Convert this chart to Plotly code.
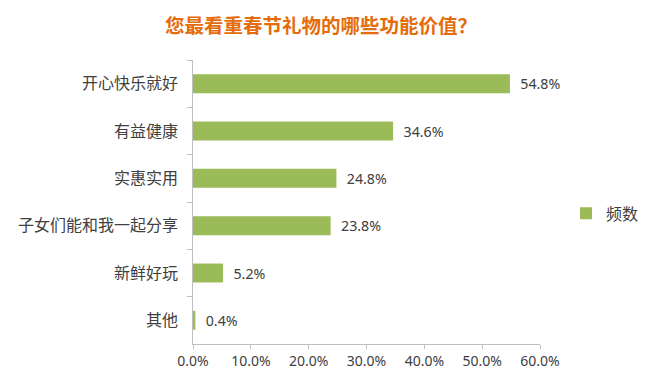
import plotly.graph_objects as go

categories = ["开心快乐就好", "有益健康", "实惠实用", "子女们能和我一起分享", "新鲜好玩", "其他"]
values = [54.8, 34.6, 24.8, 23.8, 5.2, 0.4]
tick_vals = [0, 10, 20, 30, 40, 50, 60]
tick_text = ["0.0%", "10.0%", "20.0%", "30.0%", "40.0%", "50.0%", "60.0%"]
series_name = "频数"
title = "您最看重春节礼物的哪些功能价值？"

font_family = "Noto Sans CJK SC, Noto Sans, sans-serif"
num_family = "Noto Sans, sans-serif"
text_color = "#404040"

# page body has an 8px margin, so the figure is drawn 8px smaller and shifted
fig = go.Figure()
fig.add_trace(go.Bar(
    y=categories, x=values, orientation="h", name=series_name,
    marker=dict(color="#9BBB59", line=dict(width=0)),
    text=["\u00a0\u00a0" + f"{v:.1f}%" for v in values], textposition="outside",
    textfont=dict(size=15, color=text_color, family=num_family),
    cliponaxis=False, width=0.4,
))
fig.update_layout(
    width=644, height=378,
    margin=dict(l=185, r=112, t=52, b=42, autoexpand=False),
    paper_bgcolor="white", plot_bgcolor="white",
    title=dict(text="<b>" + title + "</b>", xref="container", x=0.486, xanchor="center",
               yref="container", y=0.953, yanchor="middle",
               font=dict(size=19.5, color="#E46C0A", family=font_family)),
    font=dict(family=font_family, size=16, color=text_color),
    showlegend=True,
    legend=dict(x=1.075, xanchor="left", y=0.46, yanchor="middle",
                font=dict(size=16, color=text_color, family=font_family),
                bgcolor="rgba(0,0,0,0)", itemwidth=30),
    xaxis=dict(range=[0, 60], tickvals=tick_vals, ticktext=tick_text,
               showgrid=False, zeroline=False, showline=True, linecolor="#BFBFBF", linewidth=1,
               ticks="outside", ticklen=4, tickcolor="#BFBFBF",
               tickfont=dict(size=14, color=text_color, family=num_family)),
    yaxis=dict(autorange="reversed", showgrid=False, showline=True, linecolor="#BFBFBF", linewidth=1,
               ticks="outside", ticklen=5, tickcolor="#BFBFBF", tickson="boundaries",
               tickfont=dict(size=16, color=text_color, family=font_family),
               ticksuffix="\u00a0\u00a0\u00a0"),
)
fig.write_html("out.html")
